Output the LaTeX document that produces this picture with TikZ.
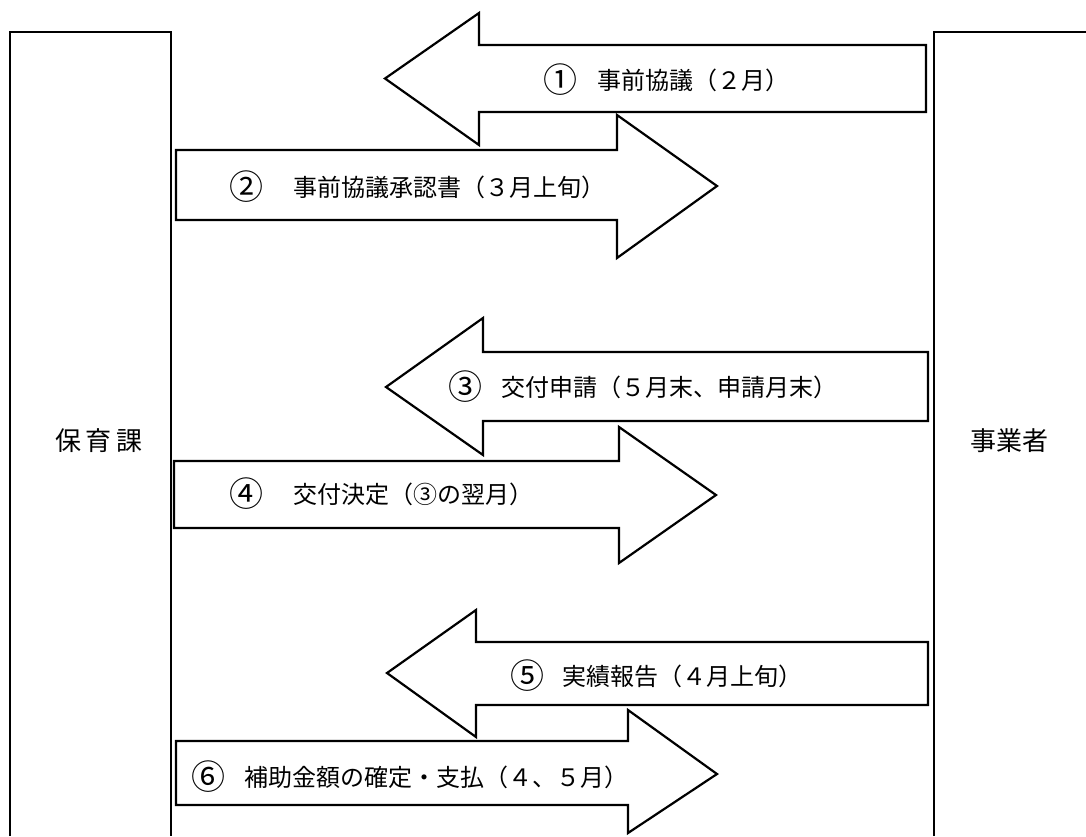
\documentclass[tikz,border=0pt]{standalone}
\usepackage{fontspec}
\setmainfont{Noto Sans CJK JP}
\begin{document}
\begin{tikzpicture}[x=1pt,y=-1pt,
  panel/.style={draw=black, line width=2.2pt},
  arr/.style={draw=black, fill=white, line width=2.2pt, line join=miter},
  lbl/.style={anchor=west, inner sep=0pt, font=\fontsize{24}{24}\selectfont},
  num/.style={inner sep=0pt, font=\fontsize{34}{34}\selectfont},
  side/.style={inner sep=0pt, font=\fontsize{26}{26}\selectfont}]
\useasboundingbox (0,0) rectangle (1086,836);
% panels
\draw[panel] (10,836) -- (10,32) -- (171,32) -- (171,836);
\draw[panel] (934,836) -- (934,32) -- (1090,32);
\node[side] (hoiku) at (99,441) {保\hspace{5pt}育\hspace{5pt}課};
\node[side] (jigyo) at (1009,441) {事業者};
% arrows
\draw[arr] (926,45) -- (479,45) -- (479,13) -- (385,78.5) -- (479,145) -- (479,112) -- (926,112) -- cycle;
\draw[arr] (176,150) -- (617,150) -- (617,115) -- (717,186) -- (617,258) -- (617,220) -- (176,220) -- cycle;
\draw[arr] (928,352) -- (483,352) -- (483,318) -- (386,387) -- (483,455) -- (483,421) -- (928,421) -- cycle;
\draw[arr] (174,461) -- (619,461) -- (619,427) -- (716,495) -- (619,563) -- (619,528) -- (174,528) -- cycle;
\draw[arr] (928,642) -- (476,642) -- (476,610) -- (387,673) -- (476,737) -- (476,705) -- (928,705) -- cycle;
\draw[arr] (176,741) -- (628,741) -- (628,710) -- (717,774) -- (628,833) -- (628,805) -- (176,805) -- cycle;
% labels
\node[num] (n1) at (560,80) {①};
\node[lbl] (l1) at (597,80) {事前協議（２月）};
\node[num] (n2) at (246,187) {②};
\node[lbl] (l2) at (293,187) {事前協議承認書（３月上旬）};
\node[num] (n3) at (465,387) {③};
\node[lbl] (l3) at (501,387) {交付申請（５月末、申請月末）};
\node[num] (n4) at (246,494) {④};
\node[lbl] (l4) at (293,494) {交付決定（③の翌月）};
\node[num] (n5) at (527,676) {⑤};
\node[lbl] (l5) at (562,676) {実績報告（４月上旬）};
\node[num] (n6) at (208,777) {⑥};
\node[lbl] (l6) at (244,777) {補助金額の確定・支払（４、５月）};
\end{tikzpicture}
\end{document}
